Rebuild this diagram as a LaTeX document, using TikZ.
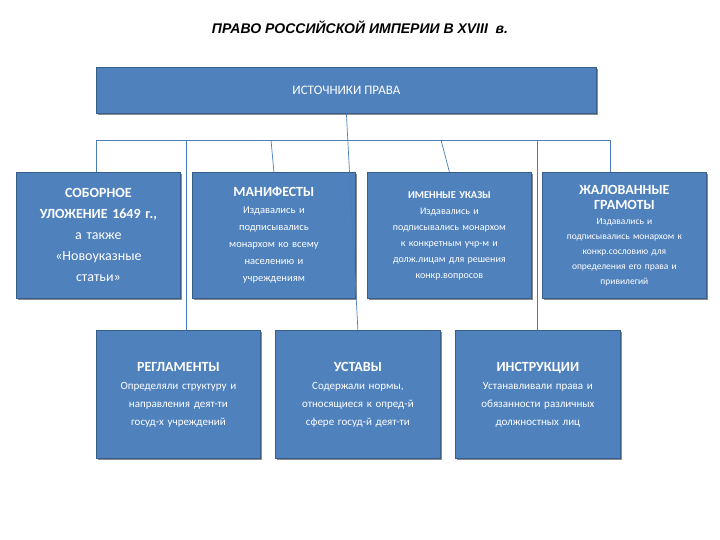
\documentclass[tikz,border=0pt]{standalone}
\usepackage{fontspec}
\usetikzlibrary{shadows}
\setmainfont{Carlito}
\newfontfamily\titlefont{Liberation Sans}
\definecolor{boxfill}{HTML}{4F81BD}
\definecolor{boxline}{HTML}{385D8A}
\definecolor{wire}{HTML}{4A7EBB}
\begin{document}
\begin{tikzpicture}[x=1pt,y=-1pt,
  box/.style={draw=boxline,fill=boxfill,line width=0.8pt,text=white,align=center,
    inner sep=2pt,anchor=north west,
    general shadow={fill=black!45,shadow xshift=1.5pt,shadow yshift=-1.5pt}},
  wirel/.style={draw=wire,line width=0.7pt}]
\useasboundingbox (0,0) rectangle (720,540);
\fill[white] (0,0) rectangle (720,540);
\node[font=\titlefont\bfseries\itshape\fontsize{14}{16}\selectfont] (title) at (360,27) {ПРАВО РОССИЙСКОЙ ИМПЕРИИ В XVIII \ в.};
\node[box,minimum width=500pt,minimum height=46pt,font=\fontsize{13}{15}\selectfont] (top) at (96,67) {ИСТОЧНИКИ ПРАВА};
% row 1
\node[box,text width=160pt,minimum height=126pt,font=\fontsize{14}{21}\selectfont] (a) at (16,172)
 {\textbf{СОБОРНОЕ}\\\textbf{УЛОЖЕНИЕ 1649 г.,}\\а также\\«Новоуказные\\статьи»};
\node[box,text width=159pt,minimum height=126pt,font=\fontsize{10.5}{17}\selectfont] (b) at (192,172)
 {{\fontsize{14}{20}\selectfont\textbf{МАНИФЕСТЫ}}\\Издавались и\\подписывались\\монархом ко всему\\населению и\\учреждениям};
\node[box,text width=160pt,minimum height=126pt,font=\fontsize{10}{16}\selectfont] (c) at (367,172)
 {{\fontsize{10.5}{14}\selectfont\textbf{ИМЕННЫЕ УКАЗЫ}}\\Издавались и\\подписывались монархом\\к конкретным учр-м и\\долж.лицам для решения\\конкр.вопросов};
\node[box,text width=160pt,minimum height=126pt,font=\fontsize{9.5}{15}\selectfont] (d) at (542,172)
 {{\fontsize{14}{20}\selectfont\textbf{ЖАЛОВАННЫЕ}\\\textbf{ГРАМОТЫ}}\\Издавались и\\подписывались монархом к\\конкр.сословию для\\определения его права и\\привилегий};
% row 2
\node[box,text width=160pt,minimum height=128pt,font=\fontsize{11}{18}\selectfont] (e) at (96,330)
 {{\fontsize{14}{20}\selectfont\textbf{РЕГЛАМЕНТЫ}}\\Определяли структуру и\\направления деят-ти\\госуд-х учреждений};
\node[box,text width=161pt,minimum height=128pt,font=\fontsize{11}{18}\selectfont] (f) at (275,330)
 {{\fontsize{14}{20}\selectfont\textbf{УСТАВЫ}}\\Содержали нормы,\\относящиеся к опред-й\\сфере госуд-й деят-ти};
\node[box,text width=161pt,minimum height=128pt,font=\fontsize{11}{18}\selectfont] (g) at (455,330)
 {{\fontsize{14}{20}\selectfont\textbf{ИНСТРУКЦИИ}}\\Устанавливали права и\\обязанности различных\\должностных лиц};
% connectors
\coordinate (busl) at (96,140);
\coordinate (busr) at (610,140);
\draw[wirel] (busl) -- (busr);
\draw[wirel] (top.south) -- (f.north);
\draw[wirel] (busl) -- (96,172);
\draw[wirel] (271,140) -- (b.north);
\draw[wirel] (441,140) -- (c.north);
\draw[wirel] (610,140) -- (610,172);
\draw[wirel] (186,140) -- (186,330);
\draw[wirel] (537,140) -- (537,330);
\end{tikzpicture}
\end{document}
